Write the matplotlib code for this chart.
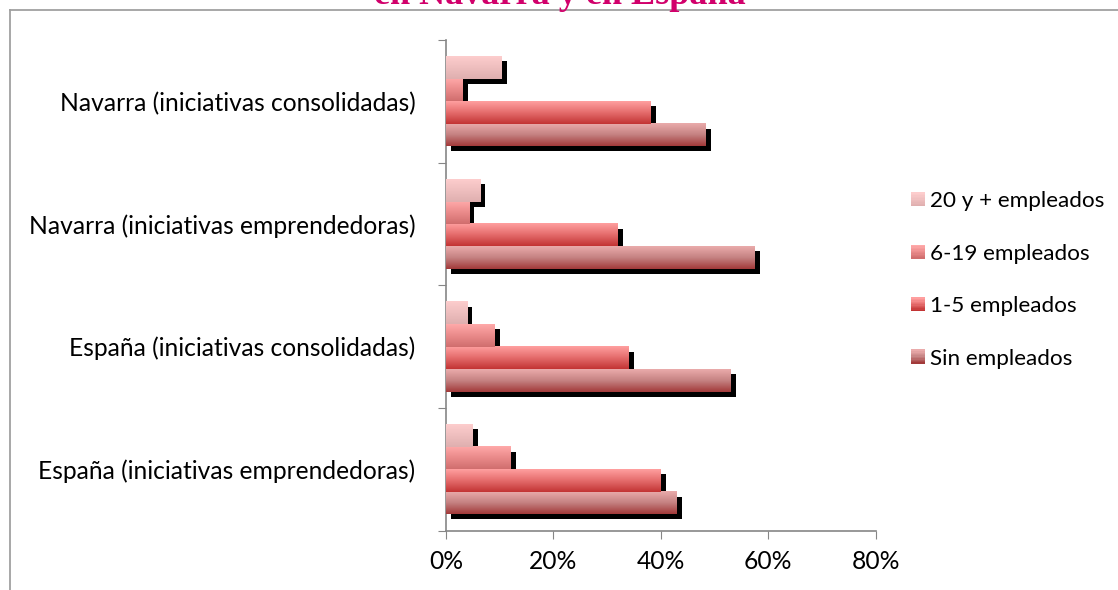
import numpy as np
import matplotlib
matplotlib.use('Agg')
import matplotlib.pyplot as plt
from matplotlib.colors import LinearSegmentedColormap
from matplotlib.patches import Rectangle
from matplotlib.lines import Line2D
from matplotlib.transforms import ScaledTranslation
from matplotlib.legend_handler import HandlerBase

# datos (porcentaje de iniciativas por tamaño)
categorias = ['España (iniciativas emprendedoras)',
              'España (iniciativas consolidadas)',
              'Navarra (iniciativas emprendedoras)',
              'Navarra (iniciativas consolidadas)']
series = ['Sin empleados', '1-5 empleados', '6-19 empleados', '20 y + empleados']
sin_empleados = [43.0, 53.0, 57.5, 48.4]
uno_cinco = [40.0, 34.0, 32.0, 38.1]
seis_diecinueve = [12.1, 9.1, 4.3, 3.1]
veinte_mas = [5.0, 4.0, 6.4, 10.4]
x_ticks = [0, 20, 40, 60, 80]
titulo = 'en Navarra y en España'

valores = [sin_empleados, uno_cinco, seis_diecinueve, veinte_mas]
# degradados (abajo, medio, arriba)
degradados = [
    ['#a23a3a', '#c58282', '#eaabab'],
    ['#c23434', '#e56c6c', '#ff9f9f'],
    ['#d06e6e', '#ea8a8a', '#ffa9a9'],
    ['#dfafaf', '#eebebe', '#fdcdcd'],
]
cmaps = [LinearSegmentedColormap.from_list('g%d' % i, c) for i, c in enumerate(degradados)]

fuente = 'Lato'
tam = 17.7
tam_leyenda = 16.2

fig = plt.figure(figsize=(11.18, 5.90), dpi=100)
ax = fig.add_axes([446 / 1118, 1 - 530.7 / 590, (875.7 - 446) / 1118, (530.7 - 40) / 590])

h = 0.183
y0 = np.arange(len(categorias)) + 0.5
sombra = ax.transData + ScaledTranslation(5 / 100, -5 / 100, fig.dpi_scale_trans)

grad = np.linspace(0, 1, 64).reshape(-1, 1)
for i, vals in enumerate(valores):
    pos = y0 + (i - 1.5) * h
    sh = ax.barh(pos, vals, height=h, color='black', zorder=1)
    for p in sh:
        p.set_transform(sombra)
    bars = ax.barh(pos, vals, height=h, color='none', zorder=2)
    for p in bars:
        x, y, w, hh = p.get_x(), p.get_y(), p.get_width(), p.get_height()
        ax.imshow(grad, extent=[x, x + w, y, y + hh], origin='lower', aspect='auto',
                  cmap=cmaps[i], zorder=3, interpolation='bilinear')

ax.set_xlim(0, 80)
ax.set_ylim(0, len(categorias))
ax.set_xticks(x_ticks)
ax.set_xticklabels(['%d%%' % t for t in x_ticks], family=fuente, fontsize=tam)
ax.set_yticks(np.arange(len(categorias) + 1))
ax.set_yticklabels([])
ax.set_yticks(y0, minor=True)
ax.set_yticklabels(categorias, minor=True, family=fuente, fontsize=tam)
ax.tick_params(axis='y', which='major', length=6, color='#868686', direction='out')
ax.tick_params(axis='y', which='minor', length=0, pad=22)
ax.tick_params(axis='x', length=6, color='#868686', pad=8)
for s in ['top', 'right']:
    ax.spines[s].set_visible(False)
for s in ['left', 'bottom']:
    ax.spines[s].set_color('#868686')
    ax.spines[s].set_linewidth(1.2)


class HandlerDegradado(HandlerBase):
    def __init__(self, cmap):
        super().__init__()
        self.cmap = cmap

    def create_artists(self, legend, orig_handle, xdescent, ydescent, width, height, fontsize, trans):
        lado = 10
        n = 10
        x = -xdescent + width - lado
        yb = -ydescent + (height - lado) / 2
        arts = []
        for k in range(n):
            r = Rectangle((x, yb + k * lado / n), lado, lado / n + 0.3,
                          facecolor=self.cmap(k / (n - 1)), edgecolor='none', transform=trans)
            arts.append(r)
        return arts


handles = [Rectangle((0, 0), 1, 1) for _ in series]
hmap = {hd: HandlerDegradado(cm) for hd, cm in zip(handles, cmaps)}
fig.legend(handles[::-1], series[::-1], handler_map=hmap, loc='center left',
           bbox_to_anchor=(911 / 1118, 1 - 280 / 590), frameon=False, borderpad=0,
           borderaxespad=0, prop={'family': fuente, 'size': tam_leyenda}, handlelength=0.62,
           handletextpad=0.22, labelspacing=1.44)

# título cortado por arriba
fig.text(560 / 1118, 1 - 3.5 / 590, titulo, ha='center', va='baseline', color='#d1006b',
         family='Liberation Serif', weight='bold', fontsize=26)

# marco del gráfico
fig.add_artist(Line2D([9.5 / 1118, 1], [1 - 10 / 590, 1 - 10 / 590], color='#a0a0a0', lw=1.3,
                      transform=fig.transFigure))
fig.add_artist(Line2D([9.5 / 1118, 9.5 / 1118], [0, 1 - 10 / 590], color='#a0a0a0', lw=1.3,
                      transform=fig.transFigure))

fig.savefig('out.png', dpi=100)
